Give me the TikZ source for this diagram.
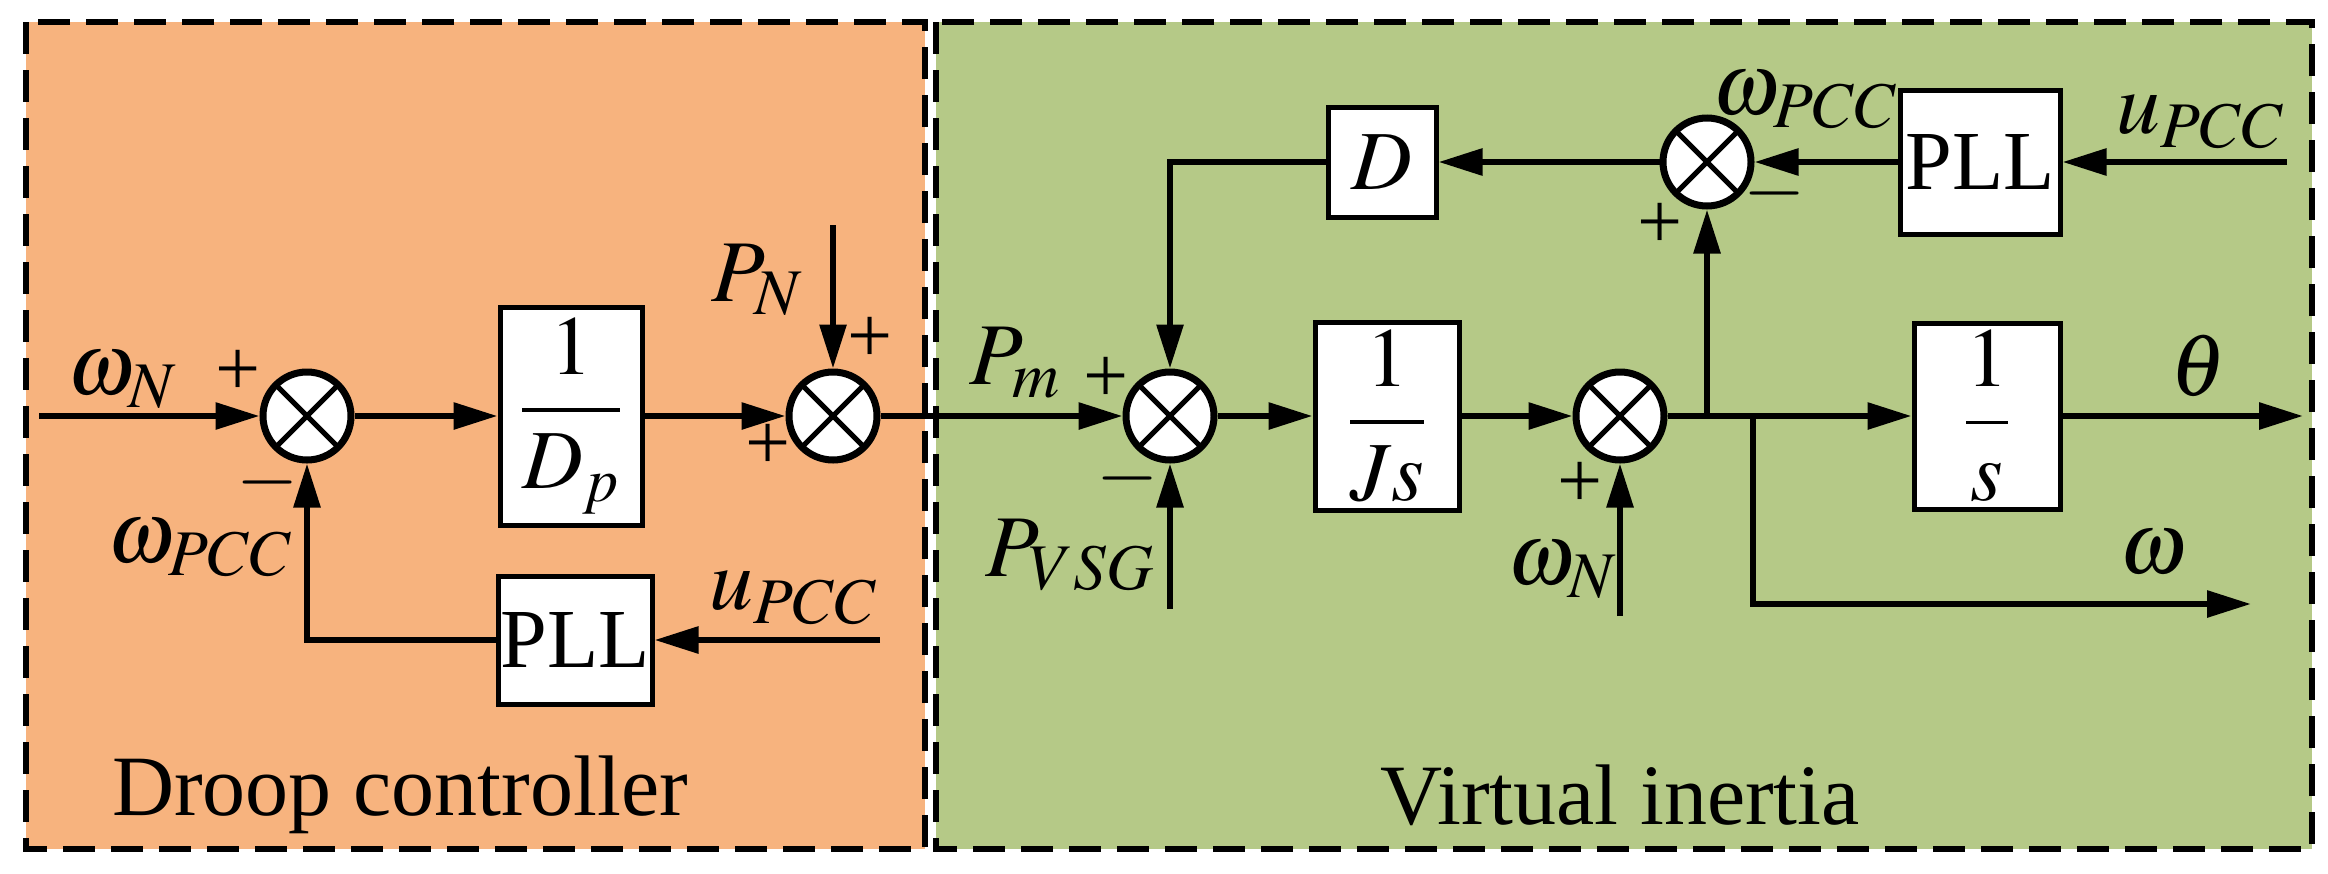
\documentclass[tikz,border=0pt]{standalone}
\usepackage{amsmath}
\usepackage{mathptmx}
\usepackage{fontspec}
\setmainfont{Liberation Serif}
\usetikzlibrary{arrows.meta}
\definecolor{org}{HTML}{F7B37E}
\definecolor{grn}{HTML}{B5C987}
\begin{document}
\begin{tikzpicture}[x=0.5pt,y=-0.5pt,
  sig/.style={line width=3pt,-{Triangle[length=22pt,width=13pt]}},
  sum/.style={circle,draw,fill=white,line width=3.5pt,minimum size=44pt,inner sep=0pt,
    path picture={\draw[line width=2.5pt] (path picture bounding box.north west)--(path picture bounding box.south east) (path picture bounding box.north east)--(path picture bounding box.south west);}},
  blk/.style={draw,fill=white,line width=2.5pt,inner sep=0pt,font=\fontsize{42}{44}\selectfont},
  lab/.style={font=\fontsize{44}{46}\selectfont},
  sgn/.style={font=\fontsize{40}{42}\selectfont},
  ttl/.style={font=\fontsize{43}{46}\selectfont}]
\useasboundingbox (0,0) rectangle (2328,873);
\fill[white] (0,0) rectangle (2328,873);
\fill[org] (26,22) rectangle (925,849);
\fill[grn] (936,22) rectangle (2312,849);
\draw[line width=3pt,dash pattern=on 16pt off 8pt] (26,22) rectangle (925,849);
\draw[line width=3pt,dash pattern=on 16pt off 8pt] (936,22) rectangle (2312,849);
% nodes
\node[sum] (s1) at (307,416) {};
\node[sum] (s2) at (833,416) {};
\node[sum] (s3) at (1170,416) {};
\node[sum] (s4) at (1620,416) {};
\node[sum] (s5) at (1707,162) {};
\node[blk,minimum width=71pt,minimum height=109pt] (dp) at (571,416) {$\dfrac{1}{D_p}$};
\node[blk,minimum width=77pt,minimum height=64pt] (pll1) at (575,640) {PLL};
\node[blk,minimum width=72pt,minimum height=94pt] (js) at (1387,416) {$\dfrac{1}{Js}$};
\node[blk,minimum width=73pt,minimum height=93pt] (is) at (1987,416) {$\dfrac{1}{s}$};
\node[blk,minimum width=54pt,minimum height=55pt] (d) at (1382,162) {$D$};
\node[blk,minimum width=80pt,minimum height=72pt] (pll2) at (1980,162) {PLL};
\coordinate (in1) at (39,416);
\coordinate (u1) at (880,640);
\coordinate (fb1) at (307,640);
\coordinate (pn) at (833,225);
\coordinate (pv) at (1170,609);
\coordinate (wn) at (1620,616);
\coordinate (br) at (1707,416);
\coordinate (br2) at (1753,416);
\coordinate (wo) at (1753,604);
\coordinate (wend) at (2251,604);
\coordinate (th) at (2303,416);
\coordinate (u2) at (2287,162);
\coordinate (dl) at (1170,162);
% connectors
\draw[sig] (in1) -- (s1);
\draw[sig] (s1) -- (dp);
\draw[sig] (dp) -- (s2);
\draw[sig] (pn) -- (s2);
\draw[sig] (u1) -- (pll1);
\draw[sig] (pll1.west) -- (fb1) -- (s1);
\draw[sig] (s2) -- (s3);
\draw[sig] (pv) -- (s3);
\draw[sig] (s3) -- (js);
\draw[sig] (js) -- (s4);
\draw[sig] (wn) -- (s4);
\draw[sig] (s4) -- (is);
\draw[sig] (is) -- (th);
\draw[sig] (br) -- (s5);
\draw[sig] (br2) -- (wo) -- (wend);
\draw[sig] (u2) -- (pll2);
\draw[sig] (pll2) -- (s5);
\draw[sig] (s5) -- (d);
\draw[sig] (d.west) -- (dl) -- (s3);
% labels
\node[lab] at (122,380) {$\omega_N$};
\node[sgn] at (238,373) {+};
\node[sgn] at (268,482) {$-$};
\node[lab] at (200,548) {$\omega_{PCC}$};
\node[lab] at (793,598) {$u_{PCC}$};
\node[lab] at (757,280) {$P_N$};
\node[sgn] at (870,340) {+};
\node[sgn] at (768,447) {+};
\node[lab] at (1015,363) {$P_m$};
\node[sgn] at (1106,380) {+};
\node[sgn] at (1128,478) {$-$};
\node[lab] at (1070,555) {$P_{VSG}$};
\node[sgn] at (1580,485) {+};
\node[lab] at (1562,570) {$\omega_N$};
\node[sgn] at (1660,226) {+};
\node[sgn] at (1775,193) {$-$};
\node[lab] at (1805,100) {$\omega_{PCC}$};
\node[lab] at (2200,122) {$u_{PCC}$};
\node[lab] at (2198,366) {$\theta$};
\node[lab] at (2153,553) {$\omega$};
\node[ttl] at (400,795) {Droop controller};
\node[ttl] at (1620,795) {Virtual inertia};
\end{tikzpicture}
\end{document}
